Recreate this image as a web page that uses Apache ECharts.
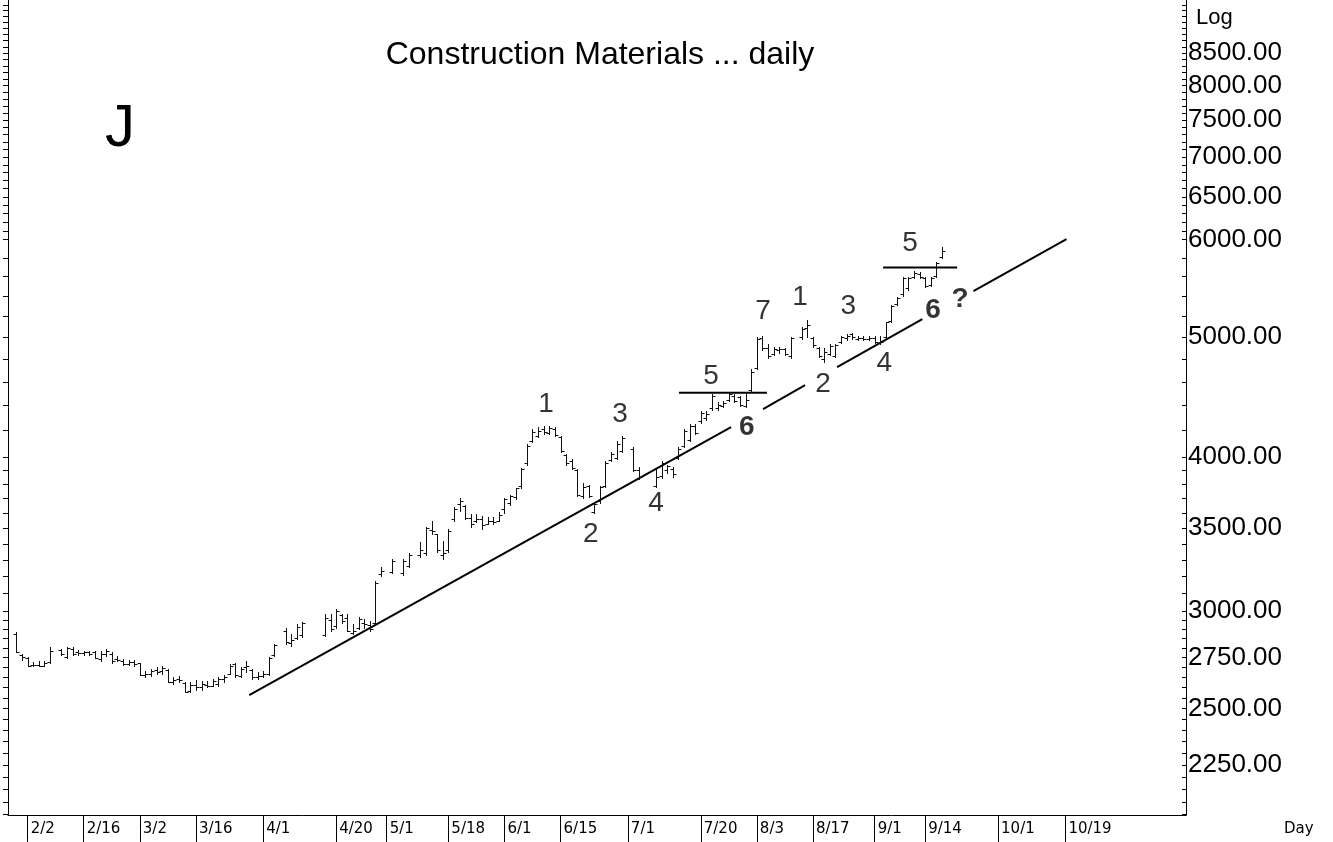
<!DOCTYPE html>
<html><head><meta charset="utf-8">
<script src="https://cdn.jsdelivr.net/npm/echarts@6/dist/echarts.min.js"></script>
<style>html,body{margin:0;padding:0;background:#fff}#c{width:1333px;height:842px}</style>
</head><body><div id="c"></div>
<script>
// ---- calendar: weekday slots starting 2009-01-28 ----
const startDate = [2009, 0, 28];
const slotCount = 210;
const days = [];
(function () {
  const d = new Date(startDate[0], startDate[1], startDate[2]);
  while (days.length < slotCount) {
    const wd = d.getDay();
    if (wd !== 0 && wd !== 6) days.push((d.getMonth() + 1) + '/' + d.getDate());
    d.setDate(d.getDate() + 1);
  }
})();

const tickDates = ['2/2','2/16','3/2','3/16','4/1','4/20','5/1','5/18','6/1','6/15','7/1','7/20','8/3','8/17','9/1','9/14','10/1','10/19'];
const priceLabels = [2250,2500,2750,3000,3500,4000,5000,6000,6500,7000,7500,8000,8500];

// ---- OHLC values, index = weekday slot ----
const opens = [null,
2875,2765,2745,2710,2712,2708,2728,null,2790,2750,
2795,2780,2775,2778,2778,2740,2770,2770,2740,2730,
2715,2725,2720,2660,2665,2685,2680,2685,2628,2640,
2620,2585,2610,2600,2612,2608,2615,2640,2668,2718,
2655,2700,2685,2650,2655,2665,2760,null,2890,2825,
2850,2870,null,null,null,2870,2950,2915,2975,2960,
2880,2905,2935,2920,2930,3215,null,3225,null,3220,
3260,null,3330,3340,3490,3460,3330,3360,3560,3660,
3650,3570,3545,3560,3530,3545,3550,3625,3670,3710,
3785,3950,4120,4160,4210,4180,4215,4150,4010,3970,
3900,3720,3790,3610,3680,3790,3975,3990,4045,null,
4060,3900,null,null,3790,3860,3900,3910,3990,4080,
4130,4235,4275,4300,4380,4380,4400,4445,4480,4470,
4400,4530,4720,4990,4900,4850,4880,4895,4830,null,
5000,5090,4990,4900,4800,4850,4830,4960,4990,5030,
4985,4990,4980,4990,4950,5000,5150,5320,5420,5480,
5600,5630,5590,5510,5610,5810];
const highs = [null,
2882,2770,2750,2725,2730,2730,2802,null,2796,2802,
2802,2786,2782,2782,2782,2782,2791,2776,2755,2740,
2735,2735,2724,2679,2689,2699,2704,2689,2649,2654,
2625,2625,2635,2630,2630,2640,2649,2659,2714,2724,
2699,2730,2689,2674,2679,2750,2818,null,2908,2871,
2925,2936,null,null,null,2980,2980,3008,2980,2980,
2925,2963,2952,2941,3169,3253,null,3305,null,3302,
3342,null,3409,3506,3545,3465,3415,3492,3645,3705,
3658,3592,3592,3578,3572,3572,3605,3705,3725,3775,
3918,4093,4209,4225,4233,4233,4225,4155,4018,3980,
3906,3812,3798,3679,3790,3965,4033,4116,4160,null,
4070,3921,null,null,3906,3965,3942,3921,4070,4209,
4249,4249,4353,4353,4496,4427,4435,4510,4496,4480,
4510,4708,5000,5010,4933,4914,4914,4905,5000,null,
5093,5168,5000,4914,4905,4933,4933,5010,5030,5040,
5010,5010,5010,5010,5010,5149,5315,5395,5600,5600,
5655,5645,5600,5600,5757,5922];
const lows = [null,
2776,2735,2704,2704,2704,2704,2724,null,2760,2745,
2760,2765,2765,2760,2745,2730,2755,2724,2730,2709,
2709,2704,2659,2649,2654,2664,2664,2625,2615,2625,
2576,2580,2590,2590,2600,2605,2605,2625,2664,2649,
2649,2674,2639,2639,2649,2659,2755,null,2818,2807,
2844,2855,null,null,null,2860,2887,2908,2935,2887,
2871,2898,2908,2887,2925,3200,null,3218,null,3209,
3253,null,3320,3332,3465,3350,3302,3350,3545,3612,
3558,3506,3538,3492,3525,3525,3545,3600,3658,3700,
3775,3942,4108,4147,4170,4170,4155,4033,3942,3906,
3718,3705,3712,3603,3668,3782,3965,3980,4033,null,
3892,3834,null,null,3782,3848,3884,3855,3980,4070,
4116,4170,4264,4288,4369,4369,4386,4435,4427,4394,
4386,4510,4708,4887,4814,4841,4859,4841,4814,null,
4988,5000,4914,4823,4778,4841,4823,4951,4970,4980,
4970,4970,4970,4951,4942,4990,5140,5315,5405,5466,
5589,5589,5487,5498,5600,5800];
const closes = [null,
2780,2750,2708,2712,2708,2722,2782,null,2770,2798,
2770,2772,2778,2770,2748,2770,2785,2730,2735,2715,
2725,2715,2662,2668,2680,2675,2695,2628,2638,2635,
2580,2612,2600,2615,2608,2630,2640,2650,2705,2660,
2690,2705,2650,2655,2665,2745,2812,null,2830,2840,
2910,2930,null,null,null,2960,2900,3000,2945,2890,
2890,2955,2925,2900,3160,3230,null,3290,null,3290,
3330,null,3360,3500,3480,3360,3340,3485,3630,3680,
3570,3530,3560,3520,3545,3540,3590,3700,3715,3770,
3910,4085,4190,4200,4190,4220,4165,4040,3955,3915,
3725,3780,3720,3660,3780,3950,4020,4100,4140,null,
3900,3850,null,null,3850,3950,3935,3870,4060,4195,
4240,4180,4340,4330,4480,4410,4420,4495,4440,4410,
4450,4690,4980,4900,4830,4890,4890,4850,4990,null,
5080,5120,4930,4830,4860,4920,4925,5000,5010,5000,
4990,4980,4990,4960,4955,5140,5300,5380,5590,5580,
5640,5600,5500,5590,5740,5870];

// ---- annotations (slot position, price) ----
const trendSegments = [
  [[42.5, 2563], [128.4, 4228]],
  [[134.1, 4372], [141.6, 4572]],
  [[147.3, 4729], [162.5, 5173]],
  [[171.6, 5450], [188.2, 6006]]
];
const waveLevels = [
  [[119.1, 4508], [134.8, 4508]],
  [[155.5, 5697], [168.7, 5697]]
];
const waveLabels = [
  ['1', 95.5, 4409], ['2', 103.5, 3459], ['3', 108.7, 4327], ['4', 115.1, 3665],
  ['5', 124.9, 4646], ['7', 134.2, 5245], ['1', 140.8, 5384], ['2', 144.9, 4577],
  ['3', 149.4, 5294], ['4', 155.8, 4760], ['5', 160.4, 5955]
];
const boldLabels = [['6', 131.3, 4223], ['6', 164.5, 5255], ['?', 169.3, 5364]];

// ---- build ----
const ohlc = [];
for (let i = 0; i < opens.length; i++) {
  if (opens[i] == null) continue;
  ohlc.push([i, opens[i], highs[i], lows[i], closes[i]]);
}
const minorTicks = [];
for (let v = 2050; v <= 3000; v += 50) minorTicks.push(v);
for (let v = 3100; v <= 4000; v += 100) minorTicks.push(v);
for (let v = 4200; v <= 6000; v += 200) minorTicks.push(v);
for (let v = 6100; v <= 9300; v += 100) minorTicks.push(v);

const Y_MIN = 2049, Y_MAX = 9386;
const isTickDate = (idx, val) => tickDates.indexOf(val) >= 0;

const series = [];
trendSegments.concat(waveLevels).forEach(seg => {
  series.push({
    type: 'line', xAxisIndex: 1, yAxisIndex: 0, data: seg, symbol: 'none',
    lineStyle: { color: '#000', width: 2 }, silent: true, z: 3
  });
});
series.push({
  type: 'custom', xAxisIndex: 0, yAxisIndex: 0, data: ohlc, z: 4,
  encode: { x: 0, y: [1, 2, 3, 4] },
  renderItem: function (params, api) {
    const i = api.value(0);
    const o = api.coord([i, api.value(1)]);
    const h = api.coord([i, api.value(2)]);
    const l = api.coord([i, api.value(3)]);
    const c = api.coord([i, api.value(4)]);
    const x = Math.round(o[0]) + 0.5;
    const yo = Math.round(o[1]) + 0.5, yc = Math.round(c[1]) + 0.5;
    const st = { stroke: '#111', lineWidth: 1 };
    return { type: 'group', children: [
      { type: 'line', shape: { x1: x, y1: Math.round(h[1]), x2: x, y2: Math.round(l[1]) + 1 }, style: st },
      { type: 'line', shape: { x1: x - 3, y1: yo, x2: x, y2: yo }, style: st },
      { type: 'line', shape: { x1: x, y1: yc, x2: x + 3, y2: yc }, style: st }
    ]};
  }
});
const labelBase = { show: true, position: [0, 0], align: 'center', verticalAlign: 'middle',
  formatter: '{b}', color: '#000', textBorderWidth: 0, fontFamily: 'Liberation Sans', fontSize: 28 };
series.push({
  type: 'scatter', xAxisIndex: 1, yAxisIndex: 0, symbolSize: 1, z: 5,
  itemStyle: { color: 'rgba(0,0,0,0)' },
  data: waveLabels.map(d => ({ name: d[0], value: [d[1], d[2]] })),
  label: Object.assign({}, labelBase)
});
series.push({
  type: 'scatter', xAxisIndex: 1, yAxisIndex: 0, symbolSize: 1, z: 5,
  itemStyle: { color: 'rgba(0,0,0,0)' },
  data: boldLabels.map(d => ({ name: d[0], value: [d[1], d[2]] })),
  label: Object.assign({}, labelBase, { fontWeight: 'bold' })
});

const chart = echarts.init(document.getElementById('c'), null, { renderer: 'canvas' });
chart.setOption({
  animation: false,
  backgroundColor: '#fff',
  grid: { left: 8, right: 147, top: 0, bottom: 27, outerBoundsMode: 'none' },
  xAxis: [{
    type: 'category', data: days, boundaryGap: true, position: 'bottom',
    axisLine: { show: true, onZero: false, lineStyle: { color: '#000', width: 1 } },
    axisTick: { show: true, alignWithLabel: true, interval: isTickDate, length: 27, lineStyle: { color: '#000' } },
    axisLabel: { show: true, interval: isTickDate, align: 'left', padding: [0, 0, 0, 3], margin: 7,
      fontFamily: 'DejaVu Sans', fontSize: 15, color: '#000' },
    splitLine: { show: false }
  }, {
    type: 'value', min: -0.5, max: slotCount - 0.5, show: false
  }],
  yAxis: [{
    type: 'log', logBase: 10, min: Y_MIN, max: Y_MAX, position: 'right',
    axisLine: { show: true, onZero: false, lineStyle: { color: '#000' } },
    axisTick: { show: true, inside: true, length: 4, customValues: minorTicks, lineStyle: { color: '#000' } },
    axisLabel: { show: true, customValues: priceLabels, margin: 2, formatter: v => Number(v).toFixed(2),
      fontFamily: 'Liberation Sans', fontSize: 26, color: '#000' },
    splitLine: { show: false }
  }, {
    type: 'log', logBase: 10, min: Y_MIN, max: Y_MAX, position: 'left',
    axisLine: { show: true, onZero: false, lineStyle: { color: '#000' } },
    axisTick: { show: true, inside: false, length: 5, customValues: minorTicks, lineStyle: { color: '#000' } },
    axisLabel: { show: false },
    splitLine: { show: false }
  }],
  graphic: [
    { type: 'text', x: 600, y: 55, style: { text: 'Construction Materials ... daily', fill: '#000',
      font: '32px "Liberation Sans"', textAlign: 'center', textVerticalAlign: 'middle', align: 'center', verticalAlign: 'middle' } },
    { type: 'text', x: 120, y: 129, style: { text: 'J', fill: '#000',
      font: '60px "Liberation Sans"', textAlign: 'center', textVerticalAlign: 'middle', align: 'center', verticalAlign: 'middle' } },
    { type: 'text', x: 1196, y: 18, style: { text: 'Log', fill: '#000',
      font: '22px "Liberation Sans"', textAlign: 'left', textVerticalAlign: 'middle', align: 'left', verticalAlign: 'middle' } },
    { type: 'text', x: 1284, y: 829, style: { text: 'Day', fill: '#000',
      font: '15px "DejaVu Sans"', textAlign: 'left', textVerticalAlign: 'middle', align: 'left', verticalAlign: 'middle' } }
  ],
  series: series
});
</script></body></html>
